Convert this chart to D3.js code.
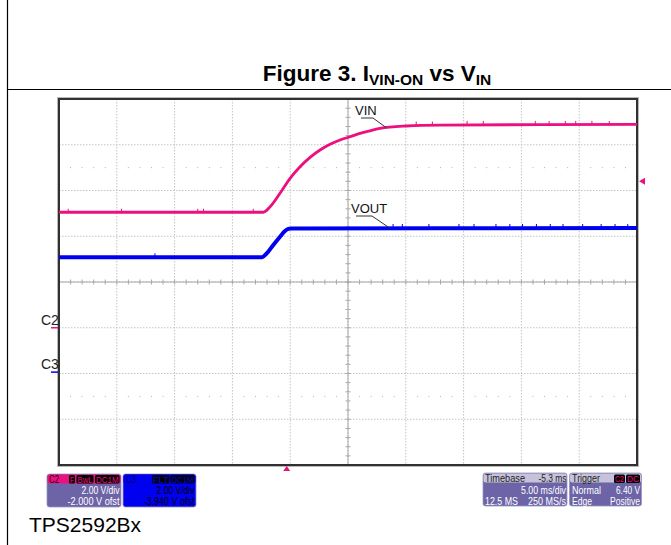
<!DOCTYPE html>
<html>
<head>
<meta charset="utf-8">
<script src="https://cdn.jsdelivr.net/npm/d3@7"></script>
<style>
  body { margin: 0; background: #fff; }
  svg { display: block; font-family: "Liberation Sans", Arial, sans-serif; }
</style>
</head>
<body>
<svg id="chart" width="671" height="545"></svg>
<script>
// time in ms relative to trigger, volts per channel
const vinTime = [-19.7, -2.02, -1.44, -0.58, 0.29, 1.15, 2.02, 2.88, 3.75, 4.61, 5.48, 6.34, 7.21, 8.07, 10.32, 13.26, 30.3];
const vinVolts = [5.05, 5.05, 5.29, 5.88, 6.53, 7.04, 7.45, 7.77, 8.02, 8.21, 8.35, 8.50, 8.61, 8.72, 8.82, 8.86, 8.89];
const voutTime = [-19.7, -2.16, -1.73, -1.16, -0.58, -0.15, 0.14, 0.37, 30.3];
const voutVolts = [5.02, 5.02, 5.19, 5.56, 5.92, 6.17, 6.26, 6.28, 6.30];
// small noise glitches seen on the plateaus (ms)
const vinGlitches = [-18.9, -14.3, -7.7, -7.2, -2.9, 11.2, 12.6, 15.6, 17.0, 21.5, 22.7, 24.1, 25.0, 26.4, 27.9];
const voutGlitches = [-11.4, 9.2, 10.0, 12.3, 14.9, 16.2, 18.1, 19.3, 20.4, 21.6, 22.8, 23.9, 25.6, 27.2, 28.4, 29.5];

const timebase = -5.3;      // ms
const msPerDiv = 5;
const voltsPerDiv = 2;
const c2Offset = -2.0;
const c3Offset = -3.94;
const triggerLevel = 6.40;

const c2Info = ["2.00 V/div", "-2.000 V ofst"];
const c3Info = ["2.00 V/div", "-3.940 V ofst"];

const PINK = "#ec0f7e", BLUE = "#0000f0", PURPLE = "#6c64a6";

const svg = d3.select("#chart");
const plot = { left: 59, right: 637, top: 99, bottom: 465 };

// scales
const tCenter = -timebase;
const x = d3.scaleLinear()
  .domain([tCenter - 5 * msPerDiv, tCenter + 5 * msPerDiv])
  .range([plot.left, plot.right]);
const yC2 = d3.scaleLinear()
  .domain([-c2Offset - 4 * voltsPerDiv, -c2Offset + 4 * voltsPerDiv])
  .range([plot.bottom, plot.top]);
const yC3 = d3.scaleLinear()
  .domain([-c3Offset - 4 * voltsPerDiv, -c3Offset + 4 * voltsPerDiv])
  .range([plot.bottom, plot.top]);
const divX = d3.scaleLinear().domain([0, 10]).range([plot.left, plot.right]);
const divY = d3.scaleLinear().domain([0, 8]).range([plot.top, plot.bottom]);

// page frame
svg.append("line").attr("x1", 7.5).attr("x2", 7.5).attr("y1", 0).attr("y2", 545)
  .attr("stroke", "#000").attr("stroke-width", 1.2);
svg.append("line").attr("x1", 7).attr("x2", 671).attr("y1", 89.5).attr("y2", 89.5)
  .attr("stroke", "#000").attr("stroke-width", 1.2);

// title
const title = svg.append("text").attr("x", 377).attr("y", 81)
  .attr("text-anchor", "middle").attr("font-weight", "bold").attr("font-size", 22.5);
title.append("tspan").text("Figure 3. I");
title.append("tspan").attr("font-size", 15.5).attr("dy", 4).text("VIN-ON");
title.append("tspan").attr("dy", -4).text(" vs V");
title.append("tspan").attr("font-size", 15.5).attr("dy", 4).text("IN");

// grid
const grid = svg.append("g");
d3.range(1, 10).forEach(i => {
  grid.append("line").attr("x1", divX(i)).attr("x2", divX(i))
    .attr("y1", plot.top).attr("y2", plot.bottom)
    .attr("stroke", "#c4c4c4").attr("stroke-dasharray", "1.5,1.5");
});
d3.range(1, 8).forEach(i => {
  grid.append("line").attr("x1", plot.left).attr("x2", plot.right)
    .attr("y1", divY(i)).attr("y2", divY(i))
    .attr("stroke", "#c4c4c4").attr("stroke-dasharray", "1.5,1.5");
});
// dotted rows
[1.5, 6.5].forEach(r => {
  d3.range(0, 10).forEach(i => {
    [0.2, 0.4, 0.6, 0.8].forEach(f => {
      grid.append("rect").attr("x", divX(i + f) - 0.5).attr("y", divY(r) - 0.5)
        .attr("width", 1).attr("height", 1).attr("fill", "#b0b0b0");
    });
  });
});
// center crosshair with ticks
grid.append("line").attr("x1", plot.left).attr("x2", plot.right)
  .attr("y1", divY(4)).attr("y2", divY(4)).attr("stroke", "#a8a8a8");
grid.append("line").attr("x1", divX(5)).attr("x2", divX(5))
  .attr("y1", plot.top).attr("y2", plot.bottom).attr("stroke", "#a8a8a8");
d3.range(0, 50).forEach(i => {
  grid.append("line").attr("x1", divX(i / 5)).attr("x2", divX(i / 5))
    .attr("y1", divY(4) - 2.5).attr("y2", divY(4) + 2.5).attr("stroke", "#a8a8a8");
});
d3.range(0, 40).forEach(i => {
  grid.append("line").attr("x1", divX(5) - 2.5).attr("x2", divX(5) + 2.5)
    .attr("y1", divY(i / 5)).attr("y2", divY(i / 5)).attr("stroke", "#a8a8a8");
});

// plot border
svg.append("rect").attr("x", plot.left - 1.5).attr("y", plot.top - 1.5)
  .attr("width", plot.right - plot.left + 3).attr("height", plot.bottom - plot.top + 3)
  .attr("fill", "none").attr("stroke", "#b8b8b8").attr("stroke-width", 1);
svg.append("rect").attr("x", plot.left).attr("y", plot.top)
  .attr("width", plot.right - plot.left).attr("height", plot.bottom - plot.top)
  .attr("fill", "none").attr("stroke", "#303030").attr("stroke-width", 2);

// traces
const vinLine = d3.line().x(d => x(d[0])).y(d => yC2(d[1])).curve(d3.curveMonotoneX);
const voutLine = d3.line().x(d => x(d[0])).y(d => yC3(d[1])).curve(d3.curveMonotoneX);
const vinInterp = t => vinVolts[d3.bisectLeft(vinTime, t)];
const voutInterp = t => voutVolts[d3.bisectLeft(voutTime, t)];

svg.append("path").datum(d3.zip(vinTime, vinVolts))
  .attr("d", vinLine).attr("fill", "none").attr("stroke", PINK).attr("stroke-width", 2.8);
svg.append("path").datum(d3.zip(voutTime, voutVolts))
  .attr("d", voutLine).attr("fill", "none").attr("stroke", BLUE).attr("stroke-width", 4);

svg.append("g").selectAll("line").data(vinGlitches).join("line")
  .attr("x1", d => x(d)).attr("x2", d => x(d))
  .attr("y1", d => yC2(vinInterp(d)) - 3.5).attr("y2", d => yC2(vinInterp(d)))
  .attr("stroke", PINK).attr("stroke-width", 1);
svg.append("g").selectAll("line").data(voutGlitches).join("line")
  .attr("x1", d => x(d)).attr("x2", d => x(d))
  .attr("y1", d => yC3(voutInterp(d)) - 4).attr("y2", d => yC3(voutInterp(d)))
  .attr("stroke", BLUE).attr("stroke-width", 1);

// trace labels with leaders
function traceLabel(text, tx, ty, ux1, ux2, px, py) {
  svg.append("text").attr("x", tx).attr("y", ty).attr("font-size", 13).attr("fill", "#111").text(text);
  svg.append("path").attr("d", `M${ux1},${ty + 3}H${ux2}L${px},${py}`)
    .attr("fill", "none").attr("stroke", "#333").attr("stroke-width", 1);
}
traceLabel("VIN", 355, 115, 361, 373, x(8.6), yC2(8.75));
traceLabel("VOUT", 351, 213, 356, 372, x(8.9), yC3(6.3));

// channel ground markers
[["C2", yC2(0), PINK], ["C3", yC3(0), BLUE]].forEach(([lab, yy, col]) => {
  svg.append("text").attr("x", 41).attr("y", yy - 3).attr("font-size", 14).attr("fill", "#222").text(lab);
  svg.append("line").attr("x1", 51).attr("x2", 58).attr("y1", yy).attr("y2", yy)
    .attr("stroke", col).attr("stroke-width", 1.5);
});

// trigger markers
const ty = yC2(triggerLevel);
svg.append("path").attr("d", `M${plot.right + 2},${ty}L${plot.right + 8},${ty - 3.5}L${plot.right + 8},${ty + 3.5}Z`)
  .attr("fill", PINK);
const tx = x(0);
svg.append("path").attr("d", `M${tx},${plot.bottom + 1}L${tx - 3.5},${plot.bottom + 6}L${tx + 3.5},${plot.bottom + 6}Z`)
  .attr("fill", PINK);

// info boxes (scope font is narrow, so text is fitted to measured widths)
function txt(g, tx, ty, str, len, col, anchor) {
  return g.append("text").attr("x", tx).attr("y", ty).attr("font-size", 10.5)
    .attr("text-anchor", anchor || "start").attr("fill", col)
    .attr("textLength", len).attr("lengthAdjust", "spacingAndGlyphs").text(str);
}
function badge(g, bx, by, text, w, col) {
  g.append("rect").attr("x", bx).attr("y", by).attr("width", w).attr("height", 8.5)
    .attr("rx", 1.5).attr("fill", "#000");
  g.append("text").attr("x", bx + w / 2).attr("y", by + 7.6).attr("text-anchor", "middle")
    .attr("font-size", 9.5).attr("fill", col)
    .attr("textLength", w - 2).attr("lengthAdjust", "spacingAndGlyphs").text(text);
}
function infoBox(bx, by, w, headFill, bodyFill) {
  const g = svg.append("g");
  g.append("rect").attr("x", bx).attr("y", by).attr("width", w).attr("height", 33)
    .attr("rx", 2.5).attr("fill", bodyFill).attr("stroke", "#9a94c4").attr("stroke-width", 0.8);
  g.append("rect").attr("x", bx + 0.5).attr("y", by + 0.5).attr("width", w - 1).attr("height", 9)
    .attr("rx", 2).attr("fill", headFill);
  return g;
}

const c2 = infoBox(47, 474, 74, PINK, PURPLE);
txt(c2, 49, 482.5, "C2", 10, "#2a0018");
badge(c2, 69, 475, "F", 6, PINK);
badge(c2, 76.5, 475, "BwL", 17, PINK);
badge(c2, 95, 475, "DC1M", 24.5, PINK);
txt(c2, 119.5, 494, c2Info[0], 38, "#fff", "end");
txt(c2, 119.5, 504.5, c2Info[1], 52, "#fff", "end");

const c3 = infoBox(123, 474, 73, BLUE, BLUE);
txt(c3, 126, 482.5, "C3", 10, "#000060");
badge(c3, 152, 475, "FLT", 17.5, BLUE);
badge(c3, 170.5, 475, "DC1M", 24, BLUE);
txt(c3, 194.5, 494, c3Info[0], 38, "#000", "end");
txt(c3, 194.5, 504.5, c3Info[1], 51, "#000", "end");

const tb = infoBox(483, 473, 84, "#c6c2da", PURPLE);
txt(tb, 485, 481.5, "Timebase", 40, "#222");
txt(tb, 566.5, 481.5, timebase + " ms", 28, "#222", "end");
txt(tb, 566, 494, msPerDiv.toFixed(2) + " ms/div", 45, "#fff", "end");
txt(tb, 485, 504.5, "12.5 MS", 33, "#fff");
txt(tb, 566, 504.5, "250 MS/s", 38, "#fff", "end");

const tr = infoBox(569.5, 473, 72, "#c6c2da", PURPLE);
txt(tr, 572, 481.5, "Trigger", 28, "#222");
badge(tr, 614, 474.5, "C2", 11, PINK);
badge(tr, 626, 474.5, "DC", 14, PINK);
txt(tr, 572, 494, "Normal", 29, "#fff");
txt(tr, 640, 494, triggerLevel.toFixed(2) + " V", 24, "#fff", "end");
txt(tr, 572, 504.5, "Edge", 20, "#fff");
txt(tr, 640, 504.5, "Positive", 30, "#fff", "end");

// part number
svg.append("text").attr("x", 29).attr("y", 532).attr("font-size", 21).attr("fill", "#000").text("TPS2592Bx");
</script>
</body>
</html>
